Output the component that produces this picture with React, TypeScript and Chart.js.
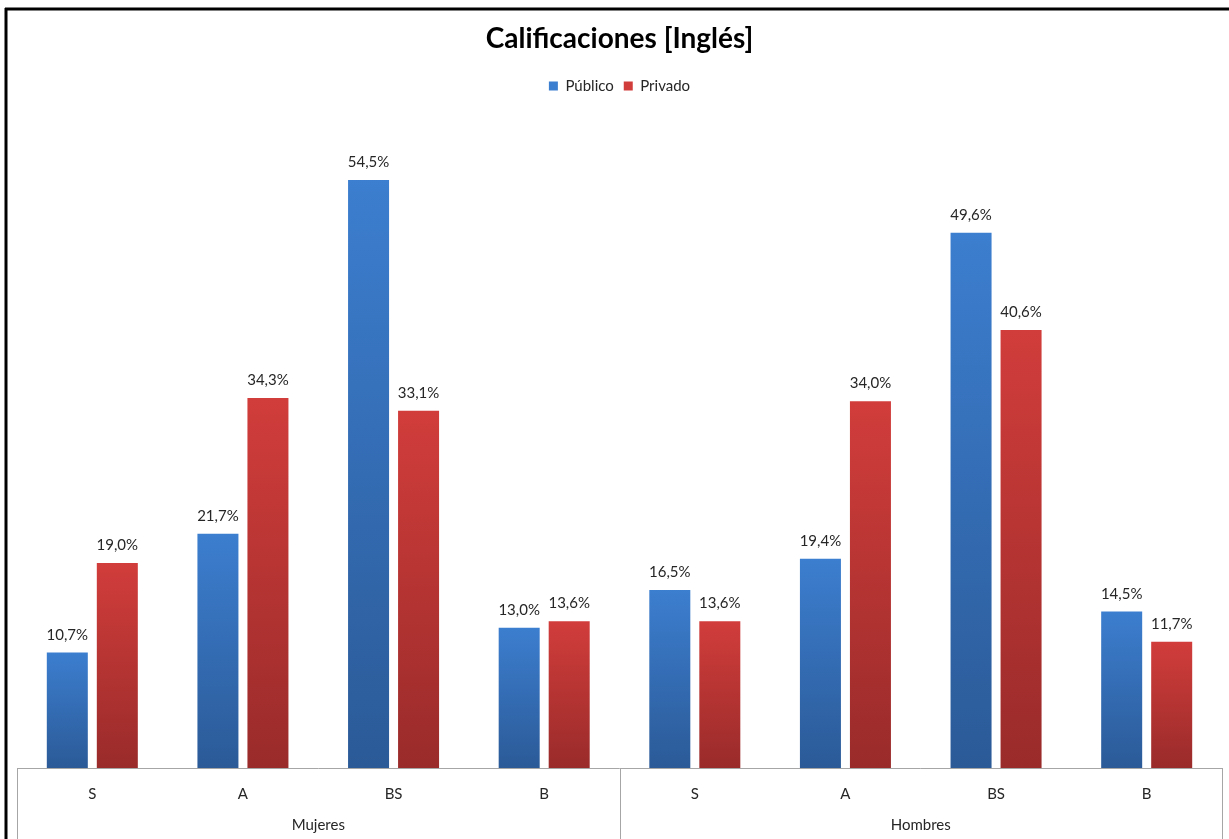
import React, { useEffect, useRef } from 'react';
import { Chart, registerables } from 'chart.js';

Chart.register(...registerables);

const categories = ['S', 'A', 'BS', 'B', 'S', 'A', 'BS', 'B'];
const groups = ['Mujeres', 'Hombres'];
const seriesNames = ['Público', 'Privado'];
const publico = [10.7, 21.7, 54.5, 13.0, 16.5, 19.4, 49.6, 14.5];
const privado = [19.0, 34.3, 33.1, 13.6, 13.6, 34.0, 40.6, 11.7];
const chartTitle = 'Calificaciones [Inglés]';

const FONT = 'Lato, "Open Sans", "DejaVu Sans", sans-serif';
const TEXT = '#262626';

function grad(top: string, bottom: string, mid: string) {
  return (ctx: any) => {
    if (ctx.type !== 'data') return mid;
    const chart = ctx.chart;
    const y = chart.scales && chart.scales.y;
    if (!y || ctx.raw == null) return mid;
    const y0 = y.getPixelForValue(ctx.raw);
    const y1 = y.getPixelForValue(0);
    if (!isFinite(y0) || !isFinite(y1) || y0 === y1) return mid;
    const g = chart.ctx.createLinearGradient(0, y0, 0, y1);
    g.addColorStop(0, top);
    g.addColorStop(1, bottom);
    return g;
  };
}

const fmt = (v: number) => v.toFixed(1).replace('.', ',') + '%';

const decor = {
  id: 'decor',
  beforeDraw(chart: any) {
    const c = chart.ctx;
    c.save();
    c.fillStyle = '#fff';
    c.fillRect(0, 0, chart.width, chart.height);
    c.strokeStyle = '#000';
    c.lineWidth = 3;
    c.beginPath();
    c.moveTo(5, 9);
    c.lineTo(chart.width, 9);
    c.moveTo(6, 8);
    c.lineTo(6, chart.height);
    c.stroke();
    c.restore();
  },
  afterDatasetsDraw(chart: any) {
    const c = chart.ctx;
    c.save();
    c.font = '15px ' + FONT;
    c.fillStyle = TEXT;
    c.textAlign = 'center';
    c.textBaseline = 'alphabetic';
    chart.data.datasets.forEach((ds: any, di: number) => {
      const meta = chart.getDatasetMeta(di);
      meta.data.forEach((el: any, i: number) => {
        c.fillText(fmt(ds.data[i]), el.x, el.y - 13);
      });
    });
    c.restore();
  },
  afterDraw(chart: any) {
    const c = chart.ctx;
    const a = chart.chartArea;
    const x = chart.scales.x;
    c.save();
    c.strokeStyle = '#a6a6a6';
    c.lineWidth = 1;
    c.beginPath();
    c.moveTo(a.left, Math.round(a.bottom) + 0.5);
    c.lineTo(a.right, Math.round(a.bottom) + 0.5);
    const seps = [x.getPixelForValue(-0.5), x.getPixelForValue(3.5), x.getPixelForValue(7.5)];
    seps.forEach((sx: number) => {
      const px = Math.round(sx) + 0.5;
      c.moveTo(px, a.bottom);
      c.lineTo(px, chart.height);
    });
    c.stroke();
    c.font = '15px ' + FONT;
    c.fillStyle = TEXT;
    c.textAlign = 'center';
    c.textBaseline = 'middle';
    c.fillText(groups[0], x.getPixelForValue(1.5), 825);
    c.fillText(groups[1], x.getPixelForValue(5.5), 825);
    c.restore();
  },
};

export default function App() {
  const ref = useRef<HTMLCanvasElement>(null);
  useEffect(() => {
    if (!ref.current) return;
    const chart = new Chart(ref.current, {
      type: 'bar',
      data: {
        labels: categories,
        datasets: [
          {
            label: seriesNames[0],
            data: publico,
            backgroundColor: grad('#3c7ecf', '#2b5a97', '#3a72bf'),
            categoryPercentage: 0.664,
            barPercentage: 0.82,
          },
          {
            label: seriesNames[1],
            data: privado,
            backgroundColor: grad('#d13d3b', '#992b2a', '#c13837'),
            categoryPercentage: 0.664,
            barPercentage: 0.82,
          },
        ],
      },
      options: {
        animation: false,
        responsive: false,
        maintainAspectRatio: false,
        layout: { padding: { left: 17, right: 7, top: 0, bottom: 0 } },
        plugins: {
          title: {
            display: true,
            text: chartTitle,
            color: '#000',
            font: { family: FONT, size: 28, weight: 'bold' },
            padding: { top: 22, bottom: 13 },
          },
          legend: {
            display: true,
            labels: {
              boxWidth: 9,
              boxHeight: 9,
              color: TEXT,
              font: { family: FONT, size: 15 },
              padding: 10,
            },
          },
          tooltip: { enabled: false },
        },
        scales: {
          x: {
            grid: { display: false },
            border: { display: false },
            ticks: { color: TEXT, font: { family: FONT, size: 15 }, padding: 9 },
            afterFit: (s: any) => {
              s.height = 71;
            },
          },
          spacer: {
            type: 'category',
            position: 'top',
            grid: { display: false },
            border: { display: false },
            ticks: { display: false },
            afterFit: (s: any) => {
              s.height = 17;
            },
          },
          y: {
            display: false,
            min: 0,
            max: 60,
          },
        },
      },
      plugins: [decor],
    });
    return () => chart.destroy();
  }, []);
  return (
    <div style={{ position: 'fixed', left: 0, top: 0, width: 1229, height: 839, background: '#fff' }}>
      <canvas ref={ref} width={1229} height={839} style={{ display: 'block', width: 1229, height: 839 }} />
    </div>
  );
}
